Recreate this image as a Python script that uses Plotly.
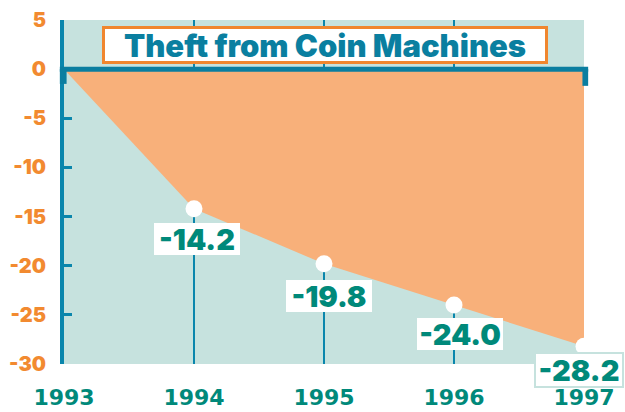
import plotly.graph_objects as go

# Data
years = [1993, 1994, 1995, 1996, 1997]
values = [0.0, -14.2, -19.8, -24.0, -28.2]
label_years = [1994, 1995, 1996, 1997]
label_values = [-14.2, -19.8, -24.0, -28.2]
y_ticks = [5, 0, -5, -10, -15, -20, -25, -30]
x_ticks = [1993, 1994, 1995, 1996, 1997]
title_text = "Theft from Coin Machines"

TEAL_BG = "#C6E2DE"
ORANGE_FILL = "#F8B07A"
AXIS_BLUE = "#0A86AC"
ZERO_BLUE = "#0B7EA0"
ORANGE_TEXT = "#F28A30"
GREEN_TEXT = "#00897A"
TITLE_BLUE = "#0A7FA0"
FONT = "Inter"

fig = go.Figure()

fig.add_trace(go.Scatter(
    x=years, y=values, mode="lines", fill="tozeroy",
    fillcolor=ORANGE_FILL, line=dict(width=0, color=ORANGE_FILL),
    hoverinfo="skip", showlegend=False,
))

fig.add_trace(go.Scatter(
    x=label_years, y=label_values, mode="markers",
    marker=dict(color="white", size=17, line=dict(width=0)),
    cliponaxis=False, showlegend=False, hoverinfo="skip",
))

# zero line and its end caps
fig.add_shape(type="line", xref="paper", yref="y", x0=-0.008, x1=1.008, y0=0, y1=0,
              line=dict(color=ZERO_BLUE, width=5), layer="above")
fig.add_shape(type="rect", xref="paper", yref="y", x0=-0.008, x1=0.005, y0=0, y1=-1.5,
              fillcolor=ZERO_BLUE, line=dict(width=0), layer="above")
fig.add_shape(type="rect", xref="paper", yref="y", x0=0.997, x1=1.008, y0=0, y1=-1.7,
              fillcolor=ZERO_BLUE, line=dict(width=0), layer="above")

# value labels
shifts = [(3, -30), (5, -32), (6, -29), (-5, -24)]
for (yr, v), (dx, dy) in zip(zip(label_years, label_values), shifts):
    last = yr == label_years[-1]
    fig.add_annotation(
        x=yr, y=v, text=f"{v:.1f}", showarrow=False,
        xshift=dx, yshift=dy, width=84, height=30,
        bgcolor="white",
        bordercolor=TEAL_BG if last else "white", borderwidth=2 if last else 0,
        font=dict(family=FONT, size=29, color=GREEN_TEXT, weight=900),
    )

# title box
fig.add_annotation(
    x=0.502, y=0.926, xref="paper", yref="paper", xanchor="center", yanchor="middle",
    text=title_text, showarrow=False,
    width=438, height=30, bgcolor="white", bordercolor="#F0862E", borderwidth=3,
    font=dict(family=FONT, size=31, color=TITLE_BLUE, weight=900),
)

fig.update_layout(
    width=625, height=412,
    margin=dict(l=64, r=41, t=20, b=48, autoexpand=False),
    paper_bgcolor="white", plot_bgcolor=TEAL_BG,
    showlegend=False,
    xaxis=dict(
        range=[1993, 1997], tickvals=x_ticks, ticktext=[str(t) for t in x_ticks],
        showgrid=True, gridcolor=AXIS_BLUE, gridwidth=2,
        zeroline=False, showline=False, ticks="", automargin=False,
        tickfont=dict(family="DejaVu Sans", size=22, color=GREEN_TEXT, weight="bold"),
        ticklabelstandoff=18,
    ),
    yaxis=dict(
        range=[-30, 5], tickvals=y_ticks, ticktext=[str(t) for t in y_ticks],
        showgrid=False, zeroline=False, automargin=False,
        showline=True, linecolor=AXIS_BLUE, linewidth=4,
        ticks="inside", ticklen=8, tickwidth=3, tickcolor=AXIS_BLUE,
        tickfont=dict(family=FONT, size=20, color=ORANGE_TEXT, weight=900),
        ticklabelstandoff=10,
    ),
)

fig.write_html("out.html", config={"displayModeBar": False},
               post_script="document.body.style.margin='0';document.body.style.overflow='hidden';")
